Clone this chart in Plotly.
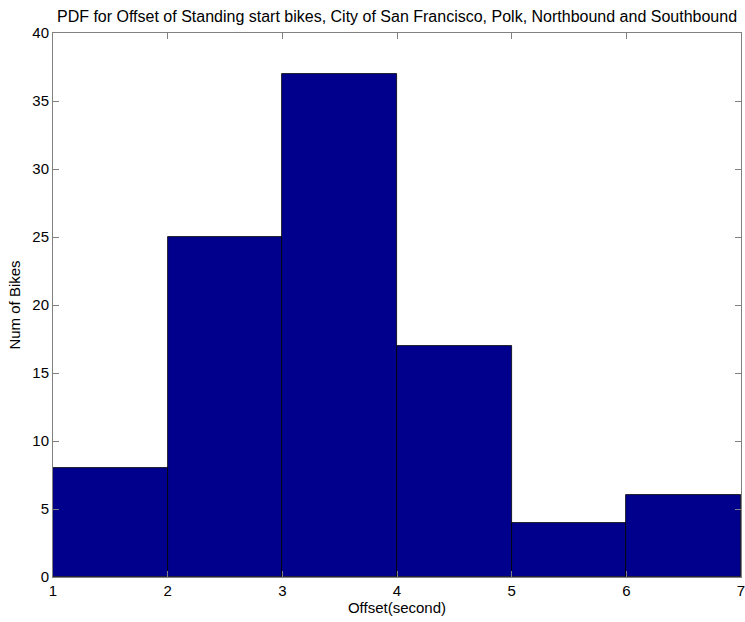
import plotly.graph_objects as go

bin_left = [1, 2, 3, 4, 5, 6]
bin_right = [2, 3, 4, 5, 6, 7]
counts = [8, 25, 37, 17, 4, 6]
x_ticks = [1, 2, 3, 4, 5, 6, 7]
y_ticks = [0, 5, 10, 15, 20, 25, 30, 35, 40]

centers = [(a + b) / 2 for a, b in zip(bin_left, bin_right)]
widths = [b - a for a, b in zip(bin_left, bin_right)]

fig = go.Figure(go.Bar(
    x=centers, y=counts, width=widths,
    marker=dict(color="#00008C", line=dict(color="#000000", width=0.8)),
))

font = dict(family="Liberation Sans, Arial, sans-serif", size=15, color="#000000")
axis_common = dict(
    showgrid=False, zeroline=False, showline=True, linecolor="#808080", linewidth=1,
    mirror="ticks", ticks="inside", ticklen=6, tickcolor="#808080",
    tickfont=font, automargin=False, ticklabeloverflow="allow",
)
fig.update_layout(
    width=745, height=622,
    margin=dict(l=53, r=4, t=33, b=45),
    paper_bgcolor="white", plot_bgcolor="white",
    font=font,
    showlegend=False,
    bargap=0,
    title=dict(text="PDF for Offset of Standing start bikes, City of San Francisco, Polk, Northbound and Southbound",
               x=0.5, xref="paper", xanchor="center", y=0.982, yanchor="top", font=dict(size=16)),
    xaxis=dict(range=[1, 7], tickvals=x_ticks, title=dict(text="Offset(second)", standoff=2, font=dict(size=15)), **axis_common),
    yaxis=dict(range=[0, 40], tickvals=y_ticks, title=dict(text="Num of Bikes", standoff=8, font=dict(size=15)), **axis_common),
)
fig.write_html("out.html", config={"displayModeBar": False},
               post_script="document.body.style.margin='0';")
